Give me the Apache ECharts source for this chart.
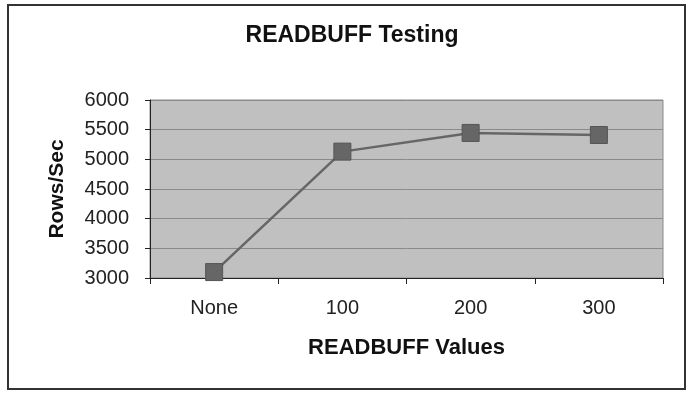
<!DOCTYPE html>
<html>
<head>
<meta charset="utf-8">
<script src="https://cdn.jsdelivr.net/npm/echarts@6/dist/echarts.min.js"></script>
<style>
  html, body { margin: 0; padding: 0; background: #fff; }
  #chart { width: 690px; height: 396px; }
</style>
</head>
<body>
<div id="chart"></div>
<script>
// 数据
const categories = ['None', '100', '200', '300'];
const rowsPerSec = [3100, 5130, 5445, 5410];

const chart = echarts.init(document.getElementById('chart'));
const font = 'Liberation Sans, Arial, sans-serif';

chart.setOption({
  animation: false,
  title: {
    text: 'READBUFF Testing',
    left: 347,
    textAlign: 'center',
    top: 19,
    textStyle: { fontFamily: font, fontSize: 23, fontWeight: 'bold', color: '#111' }
  },
  graphic: [{
    type: 'rect',
    shape: { x: 8, y: 5, width: 677, height: 384 },
    style: { fill: 'none', stroke: '#333', lineWidth: 2 },
    silent: true
  }],
  grid: {
    left: 150, right: 27, top: 100, bottom: 118,
    show: true,
    backgroundColor: '#c0c0c0',
    borderColor: '#8a8a8a',
    borderWidth: 1
  },
  xAxis: {
    type: 'category',
    data: categories,
    boundaryGap: true,
    name: 'READBUFF Values',
    nameLocation: 'middle',
    nameGap: 59,
    nameTextStyle: { fontFamily: font, fontSize: 22, fontWeight: 'bold', color: '#111' },
    axisLine: { lineStyle: { color: '#222', width: 1 } },
    axisTick: { show: true, length: 6, lineStyle: { color: '#222' } },
    axisLabel: { margin: 20, fontFamily: font, fontSize: 20, color: '#222' }
  },
  yAxis: {
    type: 'value',
    min: 3000,
    max: 6000,
    interval: 500,
    name: 'Rows/Sec',
    nameLocation: 'middle',
    nameGap: 82,
    nameTextStyle: { fontFamily: font, fontSize: 21, fontWeight: 'bold', color: '#111' },
    axisLine: { show: true, lineStyle: { color: '#222', width: 1 } },
    axisTick: { show: true, length: 5, lineStyle: { color: '#222' } },
    axisLabel: {
      margin: 21, fontFamily: font, fontSize: 20, color: '#222',
      formatter: (v) => String(v)
    },
    splitLine: { show: true, lineStyle: { color: '#8a8a8a', width: 1 } }
  },
  series: [{
    type: 'line',
    data: rowsPerSec,
    symbol: 'rect',
    symbolSize: 17,
    itemStyle: { color: '#666', borderColor: '#555', borderWidth: 1 },
    lineStyle: { color: '#666', width: 2.5 }
  }]
});
</script>
</body>
</html>
